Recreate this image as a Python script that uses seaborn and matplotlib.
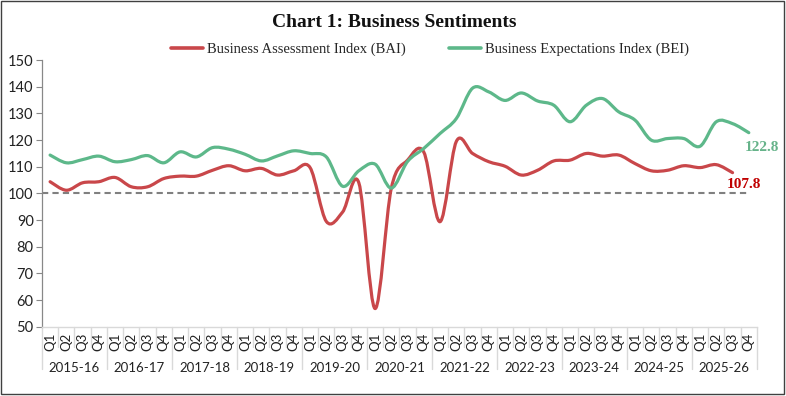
import numpy as np
import pandas as pd
import matplotlib
matplotlib.use("Agg")
import matplotlib.pyplot as plt
from matplotlib.path import Path
from matplotlib.patches import PathPatch, Rectangle
from matplotlib.lines import Line2D
import seaborn as sns

# fiscal years and quarters on the category axis
years = ["2015-16", "2016-17", "2017-18", "2018-19", "2019-20", "2020-21",
         "2021-22", "2022-23", "2023-24", "2024-25", "2025-26"]
quarters = ["Q1", "Q2", "Q3", "Q4"]

# Business Assessment Index, 2015-16 Q1 .. 2025-26 Q3
bai = [104.4, 101.2, 104.0, 104.4, 106.0, 102.5, 102.5, 105.6,
       106.5, 106.5, 108.7, 110.4, 108.5, 109.4, 106.9, 108.5,
       109.7, 89.5, 93.0, 104.0, 56.8, 102.0, 112.5, 115.5,
       89.4, 119.5, 115.0, 111.9, 110.2, 106.9, 108.7, 112.2,
       112.5, 115.0, 114.0, 114.4, 111.2, 108.5, 108.7, 110.4,
       109.7, 110.8, 107.8]

# Business Expectations Index, 2015-16 Q1 .. 2025-26 Q4
bei = [114.4, 111.5, 112.7, 114.0, 111.9, 112.7, 114.2, 111.5,
       115.6, 113.7, 117.2, 116.6, 114.7, 112.2, 114.1, 116.0,
       115.0, 113.7, 102.7, 108.5, 111.0, 102.0, 112.0, 116.9,
       122.5, 128.1, 139.5, 138.1, 134.9, 137.7, 134.7, 133.1,
       126.9, 133.1, 135.6, 130.6, 127.5, 120.0, 120.6, 120.6,
       117.7, 126.9, 126.2, 122.8]

RED = "#C9474A"
GREEN = "#5DB88A"

n_cat = len(years) * len(quarters)
df = pd.DataFrame({"idx": np.arange(n_cat),
                   "BAI": bai + [np.nan] * (n_cat - len(bai)),
                   "BEI": bei})

sns.set_theme(style="white")
plt.rcParams["font.family"] = ["Lato", "DejaVu Sans"]

fig = plt.figure(figsize=(7.86, 3.96), dpi=100)
ax = fig.add_axes([0.0534, 0.175, 0.9096, 0.673])


def smooth(line, color):
    # excel-style smoothed line through the points seaborn drew
    xy = np.asarray(line.get_xydata())
    xy = xy[~np.isnan(xy).any(axis=1)]
    n = len(xy)
    verts = [xy[0]]
    codes = [Path.MOVETO]
    for i in range(n - 1):
        p0 = xy[max(i - 1, 0)]
        p1 = xy[i]
        p2 = xy[i + 1]
        p3 = xy[min(i + 2, n - 1)]
        verts += [p1 + (p2 - p0) / 6, p2 - (p3 - p1) / 6, p2]
        codes += [Path.CURVE4] * 3
    ax.add_patch(PathPatch(Path(verts, codes), facecolor="none", edgecolor=color,
                           lw=2.3, capstyle="round", joinstyle="round", zorder=3))
    line.set_visible(False)


sns.lineplot(data=df, x="idx", y="BAI", color=RED, legend=False, ax=ax)
smooth(ax.lines[-1], RED)
sns.lineplot(data=df, x="idx", y="BEI", color=GREEN, legend=False, ax=ax)
smooth(ax.lines[-1], GREEN)

ax.plot([-0.5, n_cat - 1], [100, 100], color="#808080", lw=1.5,
        dashes=(3, 2), zorder=2)

ax.set_xlim(-0.5, n_cat - 0.5)
ax.set_ylim(50, 150)
ax.set_yticks(range(50, 151, 10))
ax.tick_params(axis="y", left=True, length=4, width=0.8, color="#888888",
               labelsize=10.5, labelcolor="#222222", pad=2)
ax.set_xticks([])
ax.set_xlabel("")
ax.set_ylabel("")
for s in ["top", "right"]:
    ax.spines[s].set_visible(False)
ax.spines["left"].set_color("#888888")
ax.spines["left"].set_linewidth(0.9)
ax.spines["bottom"].set_color("#D9D9D9")
ax.spines["bottom"].set_linewidth(1)

# two-level category axis
trans = ax.get_xaxis_transform()
for k in range(n_cat + 1):
    depth = -0.16 if k % 4 == 0 else -0.075
    ax.plot([k - 0.5, k - 0.5], [0, depth], transform=trans, color="#D9D9D9",
            lw=1, clip_on=False)
for k in range(n_cat):
    ax.annotate(quarters[k % 4], xy=(k, 0), xycoords=trans,
                xytext=(0, -11), textcoords="offset points", rotation=90,
                ha="center", va="center", fontsize=9.5, color="#222222")
for j, yr in enumerate(years):
    ax.annotate(yr, xy=(4 * j + 1.5, 0), xycoords=trans,
                xytext=(0, -29.5), textcoords="offset points",
                ha="center", va="center", fontsize=9.5, color="#222222")

# end labels
ax.annotate(f"{bei[-1]:.1f}", xy=(len(bei) - 1, bei[-1]), xytext=(-3, -11),
            textcoords="offset points", ha="left", va="center",
            fontsize=11, fontweight="bold", color="#66B38A",
            family="Liberation Serif", annotation_clip=False)
ax.annotate(f"{bai[-1]:.1f}", xy=(len(bai) - 1, bai[-1]), xytext=(-4, -8.5),
            textcoords="offset points", ha="left", va="center",
            fontsize=11, fontweight="bold", color="#C00000",
            family="Liberation Serif", annotation_clip=False)

fig.text(0.501, 0.942, "Chart 1: Business Sentiments", ha="center", va="center",
         fontsize=14, fontweight="bold", family="Liberation Serif", color="#111111")

handles = [Line2D([], [], color=RED, lw=2.6),
           Line2D([], [], color=GREEN, lw=2.6)]
fig.legend(handles, ["Business Assessment Index (BAI)", "Business Expectations Index (BEI)"],
           loc="center", bbox_to_anchor=(0.547, 0.876), ncol=2, frameon=False,
           handlelength=2.2, handletextpad=0.25, columnspacing=3.0,
           prop={"family": "Liberation Serif", "size": 10.5})

fig.add_artist(Rectangle((0.0015, 0.006), 0.9955, 0.991, transform=fig.transFigure,
                         fill=False, edgecolor="#404040", lw=1))

fig.savefig("out.png", dpi=100)
